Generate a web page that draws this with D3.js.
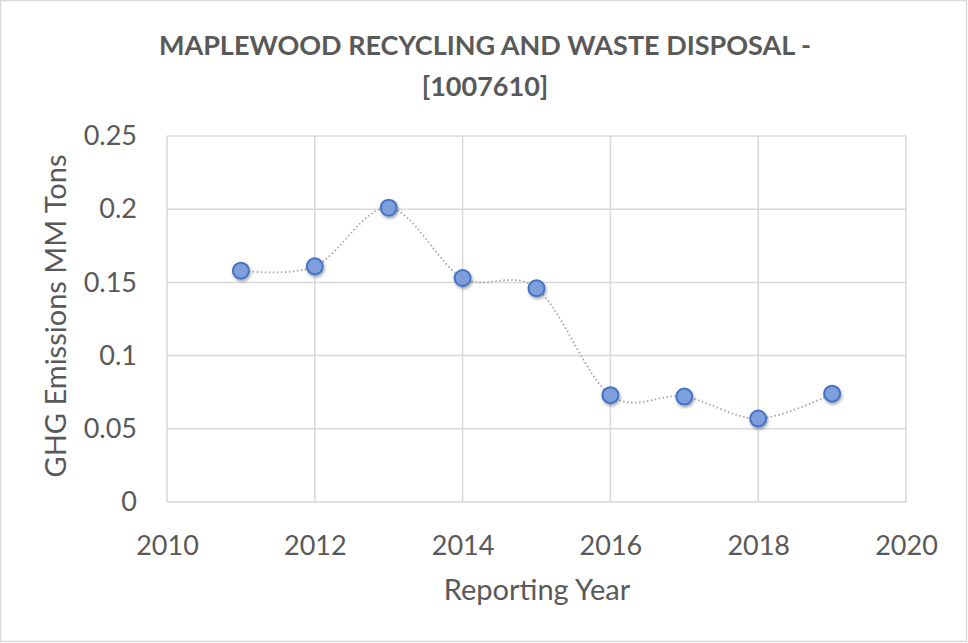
<!DOCTYPE html>
<html>
<head>
<meta charset="utf-8">
<script src="https://cdn.jsdelivr.net/npm/d3@7"></script>
<style>
  body { margin: 0; background: #fff; }
  svg { display: block; font-family: Lato, "Open Sans", sans-serif; }
</style>
</head>
<body>
<svg width="968" height="643"></svg>
<script>
const years = [2011, 2012, 2013, 2014, 2015, 2016, 2017, 2018, 2019];
const emissions = [0.158, 0.161, 0.201, 0.153, 0.146, 0.073, 0.072, 0.057, 0.074];
const xTicks = [2010, 2012, 2014, 2016, 2018, 2020];
const yTicks = [0, 0.05, 0.1, 0.15, 0.2, 0.25];

const W = 968, H = 643;
const margin = { top: 136, right: 62, bottom: 141, left: 167 };

const svg = d3.select("svg");

// drop shadow for the markers
const defs = svg.append("defs");
const shadow = defs.append("filter").attr("id", "shadow")
  .attr("x", "-50%").attr("y", "-50%").attr("width", "200%").attr("height", "200%");
shadow.append("feDropShadow")
  .attr("dx", 1).attr("dy", 2).attr("stdDeviation", 1.8)
  .attr("flood-color", "#000").attr("flood-opacity", 0.35);

svg.append("rect")
  .attr("x", 0.5).attr("y", 0.5)
  .attr("width", W - 2).attr("height", H - 2)
  .attr("fill", "#fff").attr("stroke", "#d9d9d9").attr("stroke-width", 1.5);

const x = d3.scaleLinear().domain([2010, 2020]).range([margin.left, W - margin.right]);
const y = d3.scaleLinear().domain([0, 0.25]).range([H - margin.bottom, margin.top]);

const grid = svg.append("g").attr("class", "grid");
grid.selectAll(".h").data(yTicks).enter().append("line")
  .attr("x1", x(2010)).attr("x2", x(2020))
  .attr("y1", d => y(d)).attr("y2", d => y(d))
  .attr("stroke", "#d9d9d9").attr("stroke-width", 1.5);
grid.selectAll(".v").data(xTicks).enter().append("line")
  .attr("x1", d => x(d)).attr("x2", d => x(d))
  .attr("y1", y(0)).attr("y2", y(0.25))
  .attr("stroke", "#d9d9d9").attr("stroke-width", 1.5);

// tick labels
const yAxis = d3.axisLeft(y).tickValues(yTicks).tickSize(0).tickPadding(30)
  .tickFormat(d => d3.format("")(+d.toFixed(2)));
svg.append("g").attr("transform", `translate(${margin.left},0)`).call(yAxis)
  .call(g => g.select(".domain").remove())
  .selectAll("text")
  .attr("font-size", 27).attr("fill", "#595959").attr("font-family", "Lato");

const xAxis = d3.axisBottom(x).tickValues(xTicks).tickSize(0).tickPadding(34)
  .tickFormat(d3.format("d"));
svg.append("g").attr("transform", `translate(0,${y(0)})`).call(xAxis)
  .call(g => g.select(".domain").remove())
  .selectAll("text")
  .attr("font-size", 27).attr("fill", "#595959").attr("font-family", "Lato");

const data = years.map((yr, i) => ({ year: yr, value: emissions[i] }));

// Excel-like smoothed line
const line = d3.line()
  .x(d => x(d.year)).y(d => y(d.value))
  .curve(d3.curveCatmullRom.alpha(0));

svg.append("path")
  .datum(data)
  .attr("d", line)
  .attr("fill", "none")
  .attr("stroke", "#a6a6a6")
  .attr("stroke-width", 1.8)
  .attr("stroke-dasharray", "1.5,2.5");

svg.selectAll(".dot").data(data).enter().append("circle")
  .attr("class", "dot")
  .attr("cx", d => x(d.year)).attr("cy", d => y(d.value))
  .attr("r", 8)
  .attr("fill", "#7f9fdc")
  .attr("stroke", "#4472c4")
  .attr("stroke-width", 2)
  .attr("filter", "url(#shadow)");

// titles
const title = svg.append("text")
  .attr("text-anchor", "middle")
  .attr("font-size", 27).attr("font-weight", "bold").attr("fill", "#595959");
title.append("tspan").attr("x", 485).attr("y", 55).text("MAPLEWOOD RECYCLING AND WASTE DISPOSAL -");
title.append("tspan").attr("x", 485).attr("y", 96).text("[1007610]");

svg.append("text")
  .attr("x", 537).attr("y", 600)
  .attr("text-anchor", "middle")
  .attr("font-size", 29).attr("fill", "#595959")
  .text("Reporting Year");

svg.append("text")
  .attr("transform", `translate(66,${(y(0) + y(0.25)) / 2 - 3}) rotate(-90)`)
  .attr("text-anchor", "middle")
  .attr("font-size", 29).attr("fill", "#595959")
  .text("GHG Emissions MM Tons");
</script>
</body>
</html>
